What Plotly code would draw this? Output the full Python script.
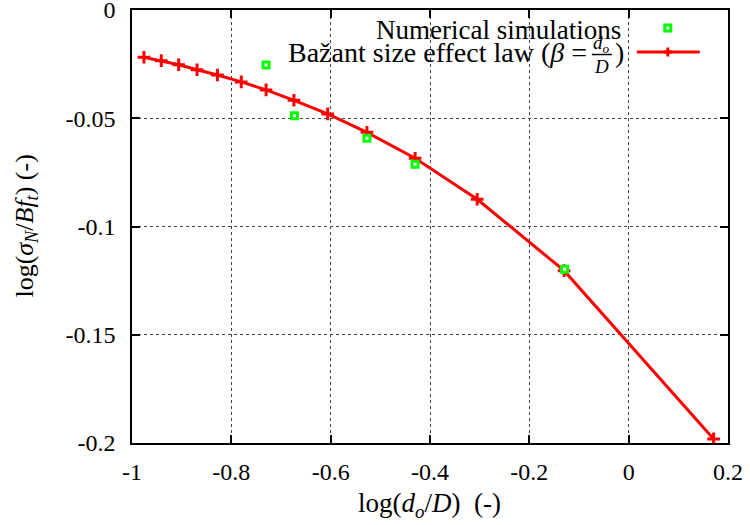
import plotly.graph_objects as go

# Bažant size effect law curve
law_x = [-0.976, -0.941, -0.906, -0.869, -0.828, -0.780, -0.730, -0.674,
         -0.606, -0.527, -0.430, -0.305, -0.130, 0.171]
law_y = [-0.0218, -0.0234, -0.0253, -0.0276, -0.0300, -0.0332, -0.0369, -0.0417,
         -0.0480, -0.0565, -0.0685, -0.0874, -0.1204, -0.1981]

# Numerical simulations
sim_x = [-0.730, -0.673, -0.527, -0.430, -0.129]
sim_y = [-0.0254, -0.0488, -0.0592, -0.0712, -0.1197]

x_ticks = [-1, -0.8, -0.6, -0.4, -0.2, 0, 0.2]
x_ticktext = ["-1", "-0.8", "-0.6", "-0.4", "-0.2", "0", "0.2"]
y_ticks = [0, -0.05, -0.1, -0.15, -0.2]
y_ticktext = ["0", "-0.05", "-0.1", "-0.15", "-0.2"]

legend_sim = "Numerical simulations"
legend_law = "Bažant size effect law (<i>β</i> ="
x_title = "log(<i>d<sub>o</sub></i>/<i>D</i>)  (-)"
y_title = "log(<i>σ<sub>N</sub></i>/<i>Bf<sub>t</sub></i>) (-)"

FONT = "Liberation Serif"
BLACK = "black"

fig = go.Figure()
fig.add_trace(go.Scatter(
    x=law_x, y=law_y, mode="lines+markers",
    line=dict(color="#ff0000", width=3),
    marker=dict(symbol="cross-thin", size=9, color="#ff0000",
                line=dict(color="#ff0000", width=3)),
    showlegend=False, hoverinfo="skip"))
fig.add_trace(go.Scatter(
    x=sim_x, y=sim_y, mode="markers",
    marker=dict(symbol="square", size=6, color="white",
                line=dict(color="#00ff00", width=3)),
    showlegend=False, hoverinfo="skip"))

axis_common = dict(
    showline=True, linecolor=BLACK, linewidth=1.5, mirror="allticks",
    ticks="inside", ticklen=8, tickcolor=BLACK, tickwidth=1.5,
    showgrid=True, gridcolor="#444444", griddash="dot", gridwidth=1,
    zeroline=False, automargin=False, ticklabeloverflow="allow",
    tickfont=dict(family=FONT, size=24, color=BLACK),
)

fig.update_xaxes(range=[-1, 0.2], tickvals=x_ticks, ticktext=x_ticktext,
                 ticklabelstandoff=6, **axis_common)
fig.update_yaxes(range=[-0.2, 0], tickvals=y_ticks, ticktext=y_ticktext,
                 ticklabelstandoff=10, **axis_common)

# axis titles
fig.add_annotation(xref="paper", yref="paper", x=0.4985, y=-0.1432,
                   xanchor="center", yanchor="middle", showarrow=False,
                   text=x_title, font=dict(family=FONT, size=27, color=BLACK))
fig.add_annotation(xref="paper", yref="paper", x=-0.1785, y=0.5012,
                   xanchor="center", yanchor="middle", showarrow=False,
                   textangle=-90,
                   text=y_title, font=dict(family=FONT, size=26, color=BLACK))

# gnuplot-style key: text right-aligned, sample to the right
fig.add_annotation(xref="paper", yref="paper", x=0.8236, y=0.9538,
                   xanchor="right", yanchor="middle", showarrow=False,
                   text=legend_sim, font=dict(family=FONT, size=27, color=BLACK))
fig.add_annotation(xref="paper", yref="paper", x=0.7666, y=0.9007,
                   xanchor="right", yanchor="middle", showarrow=False,
                   text=legend_law, font=dict(family=FONT, size=28, color=BLACK))
# fraction d_o / D
fig.add_annotation(xref="paper", yref="paper", x=0.7884, y=0.9215,
                   xanchor="center", yanchor="middle", showarrow=False,
                   text="<i>d<sub>o</sub></i>", font=dict(family=FONT, size=19, color=BLACK))
fig.add_annotation(xref="paper", yref="paper", x=0.7884, y=0.8700,
                   xanchor="center", yanchor="middle", showarrow=False,
                   text="<i>D</i>", font=dict(family=FONT, size=19, color=BLACK))
fig.add_shape(type="line", xref="paper", yref="paper",
              x0=0.7716, x1=0.805, y0=0.8972, y1=0.8972,
              line=dict(color=BLACK, width=1.5))
fig.add_annotation(xref="paper", yref="paper", x=0.8068, y=0.9007,
                   xanchor="left", yanchor="middle", showarrow=False,
                   text=")", font=dict(family=FONT, size=28, color=BLACK))

# key samples
fig.add_shape(type="rect", xref="paper", yref="paper",
              x0=0.8940, x1=0.9040, y0=0.9515, y1=0.9653,
              fillcolor="white", line=dict(color="#00ff00", width=3))
fig.add_shape(type="line", xref="paper", yref="paper",
              x0=0.847, x1=0.9526, y0=0.903, y1=0.903,
              line=dict(color="#ff0000", width=3))
fig.add_shape(type="line", xref="paper", yref="paper",
              x0=0.8990, x1=0.8990, y0=0.8926, y1=0.9134,
              line=dict(color="#ff0000", width=3))
fig.add_shape(type="line", xref="paper", yref="paper",
              x0=0.8915, x1=0.9065, y0=0.903, y1=0.903,
              line=dict(color="#ff0000", width=3))

fig.update_layout(
    width=750, height=525,
    margin=dict(l=131.5, r=21.7, t=10, b=82),
    paper_bgcolor="white", plot_bgcolor="white",
    font=dict(family=FONT, color=BLACK),
    hovermode=False,
)

fig.write_html("out.html", config={"displayModeBar": False},
               post_script="document.body.style.margin='0px';document.body.style.overflow='hidden';")
